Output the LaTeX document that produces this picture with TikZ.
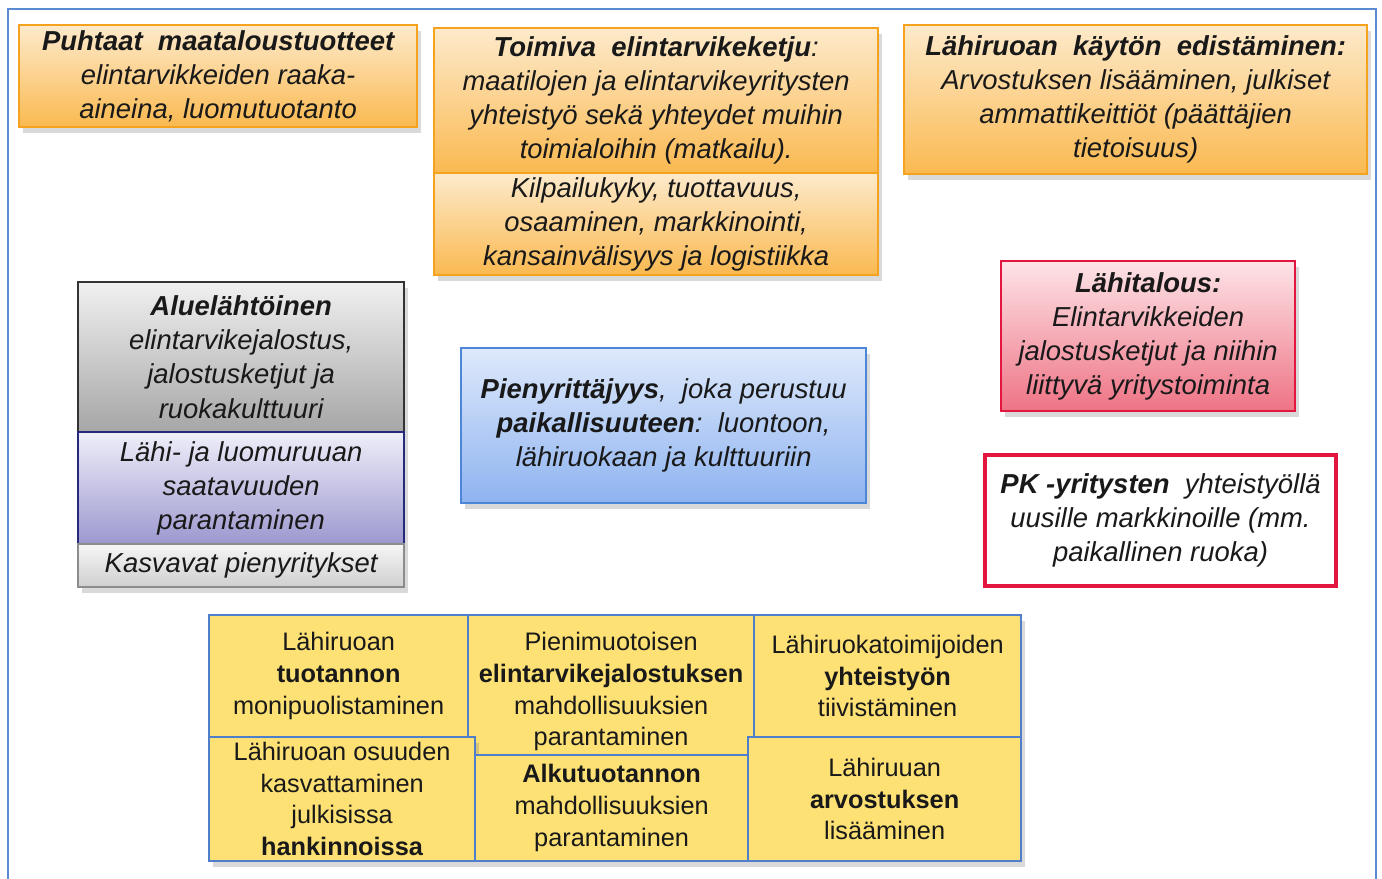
\documentclass[tikz,border=0pt]{standalone}
\usepackage{fontspec}
\setmainfont{Liberation Sans}
\usetikzlibrary{shadows}

\definecolor{frameblue}{HTML}{5A8AD0}
\definecolor{orangetop}{HTML}{FDEACB}
\definecolor{orangebot}{HTML}{FAB950}
\definecolor{orangeline}{HTML}{F5A31E}
\definecolor{graytop}{HTML}{F0F0F0}
\definecolor{graybot}{HTML}{A6A6A6}
\definecolor{purpletop}{HTML}{EFEEF9}
\definecolor{purplebot}{HTML}{9C98CF}
\definecolor{purpleline}{HTML}{252A7C}
\definecolor{lgraytop}{HTML}{F6F6F6}
\definecolor{lgraybot}{HTML}{CFCFCF}
\definecolor{bluetop}{HTML}{DEE9FB}
\definecolor{bluebot}{HTML}{8EB3F0}
\definecolor{blueline}{HTML}{4D86D6}
\definecolor{pinktop}{HTML}{FDE4E7}
\definecolor{pinkbot}{HTML}{EE7385}
\definecolor{redline}{HTML}{E2163F}
\definecolor{yellowfill}{HTML}{FDE174}
\definecolor{gridline}{HTML}{4F7FCB}

\begin{document}
\begin{tikzpicture}[x=0.01cm,y=-0.01cm,
  box/.style={anchor=north west,inner sep=0pt,align=center,draw,line width=0.6pt,
    text=black!90,font=\fontsize{7.8}{9.7}\selectfont\itshape},
  boxshadow/.style={drop shadow={shadow xshift=0.4mm,shadow yshift=-0.6mm,opacity=0.3}},
  orangebox/.style={box,boxshadow,top color=orangetop,bottom color=orangebot,draw=orangeline},
  graybox/.style={box,boxshadow,top color=graytop,bottom color=graybot,draw=black!80},
  purplebox/.style={box,boxshadow,top color=purpletop,bottom color=purplebot,draw=purpleline},
  lgraybox/.style={box,boxshadow,top color=lgraytop,bottom color=lgraybot,draw=black!45},
  bluebox/.style={box,boxshadow,top color=bluetop,bottom color=bluebot,draw=blueline},
  pinkbox/.style={box,boxshadow,top color=pinktop,bottom color=pinkbot,draw=redline},
  redframe/.style={box,fill=white,draw=redline,line width=1.1pt},
  gridbox/.style={box,boxshadow,fill=yellowfill,draw=gridline,
    font=\fontsize{7.2}{9}\selectfont}
]
\useasboundingbox (0,0) rectangle (1382,879);

% outer frame
\draw[frameblue,line width=0.8pt] (8,879) -- (8,9) -- (1376,9) -- (1376,879);

% top row
\node[orangebox,minimum width=3.98cm,minimum height=1.02cm] (puhtaat) at (18,24)
  {\textbf{Puhtaat\ \ maataloustuotteet}\\ elintarvikkeiden raaka-\\ aineina, luomutuotanto};
\node[orangebox,minimum width=4.44cm,minimum height=1.45cm] (toimiva) at (433,27)
  {\textbf{Toimiva\ \ elintarvikeketju}:\\ maatilojen ja elintarvikeyritysten\\
   yhteistyö sekä yhteydet muihin\\ toimialoihin (matkailu).};
\node[orangebox,minimum width=4.44cm,minimum height=1.02cm] (kilpailu) at (433,172)
  {Kilpailukyky, tuottavuus,\\ osaaminen, markkinointi,\\ kansainvälisyys ja logistiikka};
\node[orangebox,minimum width=4.63cm,minimum height=1.49cm] (kaytto) at (903,24)
  {\textbf{Lähiruoan\ \ käytön\ \ edistäminen:}\\ Arvostuksen lisääminen, julkiset\\
   ammattikeittiöt (päättäjien\\ tietoisuus)};

% left column
\node[graybox,minimum width=3.26cm,minimum height=1.50cm] (alue) at (77,281)
  {\textbf{Aluelähtöinen}\\ elintarvikejalostus,\\ jalostusketjut ja\\ ruokakulttuuri};
\node[purplebox,minimum width=3.26cm,minimum height=1.12cm] (saatavuus) at (77,431)
  {Lähi- ja luomuruuan\\ saatavuuden\\ parantaminen};
\node[lgraybox,minimum width=3.26cm,minimum height=0.43cm] (kasvavat) at (77,543)
  {Kasvavat pienyritykset};

% middle and right
\node[bluebox,minimum width=4.05cm,minimum height=1.55cm] (pienyritt) at (460,347)
  {\textbf{Pienyrittäjyys},\ \ joka perustuu\\ \textbf{paikallisuuteen}:\ \ luontoon,\\
   lähiruokaan ja kulttuuriin};
\node[pinkbox,minimum width=2.94cm,minimum height=1.50cm] (lahitalous) at (1000,260)
  {\textbf{Lähitalous:}\\ Elintarvikkeiden\\ jalostusketjut ja niihin\\ liittyvä yritystoiminta};
\node[redframe,minimum width=3.51cm,minimum height=1.31cm] (pk) at (983,453)
  {\textbf{PK -yritysten}\ \ yhteistyöllä\\ uusille markkinoille (mm.\\ paikallinen ruoka)};

% yellow grid
\node[gridbox,minimum width=2.59cm,minimum height=1.22cm] (tuotanto) at (208,614)
  {Lähiruoan\\ \textbf{tuotannon}\\ monipuolistaminen};
\node[gridbox,minimum width=2.86cm,minimum height=1.40cm] (jalostus) at (467,614)
  {\\[0pt]Pienimuotoisen\\ \textbf{elintarvikejalostuksen}\\ mahdollisuuksien\\ parantaminen};
\node[gridbox,minimum width=2.67cm,minimum height=1.22cm] (yhteistyo) at (753,614)
  {Lähiruokatoimijoiden\\ \textbf{yhteistyön}\\ tiivistäminen};
\node[gridbox,minimum width=2.66cm,minimum height=1.24cm] (hankinnat) at (208,736)
  {Lähiruoan osuuden\\ kasvattaminen\\ julkisissa\\ \textbf{hankinnoissa}};
\node[gridbox,minimum width=2.73cm,minimum height=1.06cm] (alkutuotanto) at (474,754)
  {\textbf{Alkutuotannon}\\ mahdollisuuksien\\ parantaminen};
\node[gridbox,minimum width=2.73cm,minimum height=1.24cm] (arvostus) at (747,736)
  {Lähiruuan\\ \textbf{arvostuksen}\\ lisääminen};
\end{tikzpicture}
\end{document}
